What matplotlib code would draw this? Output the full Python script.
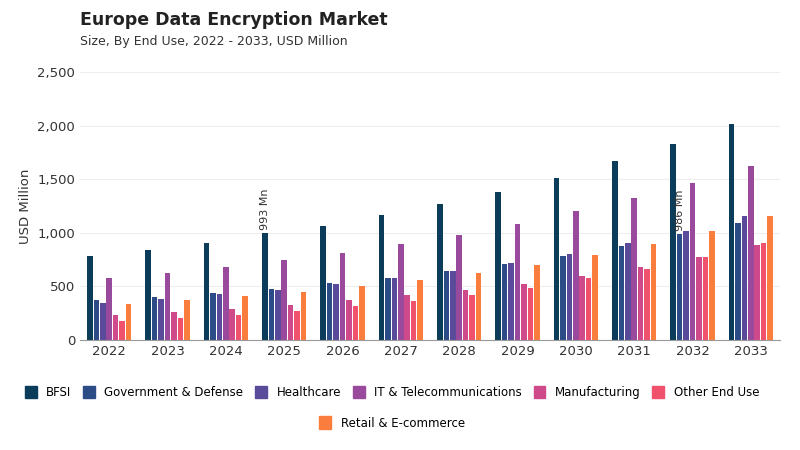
import numpy as np
import matplotlib.pyplot as plt
from matplotlib.patches import Patch

years = ['2022', '2023', '2024', '2025', '2026', '2027', '2028', '2029', '2030', '2031', '2032', '2033']
segments = ['BFSI', 'Government & Defense', 'Healthcare', 'IT & Telecommunications',
            'Manufacturing', 'Other End Use', 'Retail & E-commerce']
colors = ['#0b3d5b', '#2b4c86', '#5a4b9a', '#9a4a9c', '#cf4a8b', '#f0516c', '#fb7d3d']

bfsi = [784, 840, 905, 993, 1063, 1166, 1269, 1380, 1511, 1670, 1828, 2015]
gov = [373, 401, 438, 476, 532, 578, 644, 709, 784, 877, 986, 1091]
health = [345, 382, 429, 466, 522, 578, 644, 718, 802, 905, 1017, 1157]
it = [578, 625, 681, 746, 811, 895, 979, 1082, 1203, 1324, 1464, 1623]
manuf = [233, 261, 289, 326, 373, 420, 466, 522, 597, 681, 774, 886]
other = [177, 205, 233, 270, 317, 364, 420, 485, 578, 662, 774, 905]
retail = [336, 373, 410, 448, 504, 560, 625, 700, 793, 895, 1017, 1157]
series = [bfsi, gov, health, it, manuf, other, retail]

fig, ax = plt.subplots(figsize=(8, 4.5), dpi=100)
fig.subplots_adjust(left=0.1, right=0.975, top=0.84, bottom=0.245)

x = np.arange(len(years))
w = 0.095
gap = 0.11
for i, (vals, c) in enumerate(zip(series, colors)):
    ax.bar(x + (i - 3) * gap, vals, w, color=c, label=segments[i])

ax.text(x[3] - 3 * gap, bfsi[3] + 30, '993 Mn', rotation=90, ha='center', va='bottom', fontsize=8, color='#333333')
ax.text(x[10] - 2 * gap, gov[10] + 30, '986 Mn', rotation=90, ha='center', va='bottom', fontsize=8, color='#333333')

ax.set_ylim(0, 2500)
ax.set_yticks(range(0, 2501, 500))
ax.set_yticklabels(['0', '500', '1,000', '1,500', '2,000', '2,500'])
ax.set_xticks(x)
ax.set_xticklabels(years)
ax.set_xlim(-0.5, 11.5)
ax.set_ylabel('USD Million', fontsize=9.5, color='#333333')
ax.tick_params(colors='#333333', labelsize=9.5, length=0)
ax.grid(axis='y', color='#eeeeee')
ax.set_axisbelow(True)
for s in ['top', 'right', 'left']:
    ax.spines[s].set_visible(False)
ax.spines['bottom'].set_color('#999999')

fig.text(0.1, 0.945, 'Europe Data Encryption Market', fontsize=12.5, fontweight='bold', color='#222222')
fig.text(0.1, 0.9, 'Size, By End Use, 2022 - 2033, USD Million', fontsize=9, color='#333333')

h1 = [Patch(color=c) for c in colors[:6]]
fig.legend(h1, segments[:6], loc='center', bbox_to_anchor=(0.49, 0.128), ncol=6, frameon=False,
           fontsize=8.5, handlelength=1.0, handleheight=1.2, columnspacing=1.0, handletextpad=0.8)
fig.legend([Patch(color=colors[6])], segments[6:], loc='center', bbox_to_anchor=(0.49, 0.06), frameon=False,
           fontsize=8.5, handlelength=1.0, handleheight=1.2, handletextpad=0.8)

fig.savefig('out.png')
